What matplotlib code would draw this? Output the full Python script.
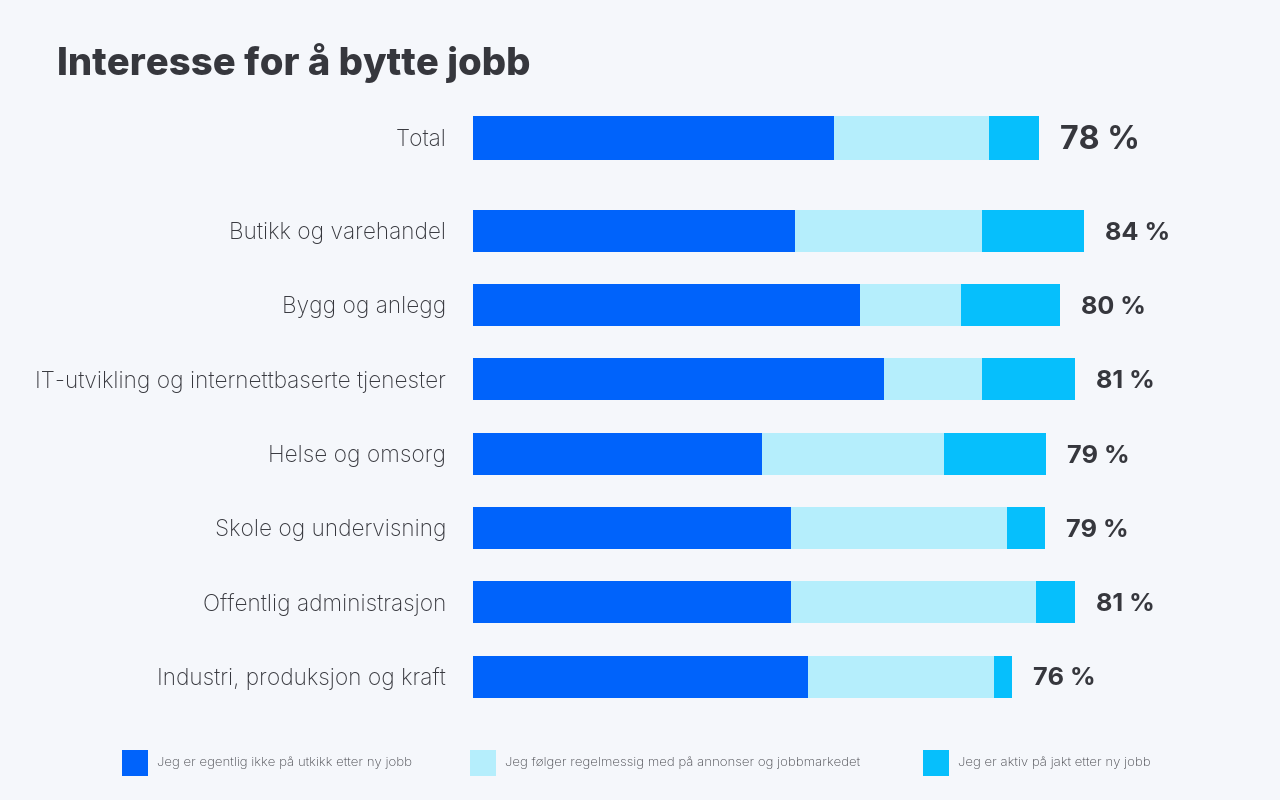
import matplotlib
matplotlib.use("Agg")
import matplotlib.pyplot as plt
from matplotlib.patches import Rectangle

# data (shares in %)
categories = [
    "Total",
    "Butikk og varehandel",
    "Bygg og anlegg",
    "IT-utvikling og internettbaserte tjenester",
    "Helse og omsorg",
    "Skole og undervisning",
    "Offentlig administrasjon",
    "Industri, produksjon og kraft",
]
not_looking = [49.8, 44.4, 53.4, 56.7, 39.9, 43.9, 43.9, 46.2]
following = [21.4, 25.8, 13.9, 13.5, 25.0, 29.8, 33.7, 25.7]
active = [6.8, 14.1, 13.7, 12.8, 14.1, 5.2, 5.5, 2.5]
totals = ["78 %", "84 %", "80 %", "81 %", "79 %", "79 %", "81 %", "76 %"]
legend_labels = [
    "Jeg er egentlig ikke på utkikk etter ny jobb",
    "Jeg følger regelmessig med på annonser og jobbmarkedet",
    "Jeg er aktiv på jakt etter ny jobb",
]

colors = ["#0063fb", "#b5eefc", "#06bffc"]
BG = "#f5f7fb"
TXT = "#36373d"

plt.rcParams["font.family"] = ["Inter", "DejaVu Sans"]

fig = plt.figure(figsize=(12.8, 8), dpi=100, facecolor=BG)
# axes: x 0..100 % over pixels 473..1198, y rows of 74.3 px
ax = fig.add_axes([473 / 1280, 1 - 720 / 800, 725 / 1280, 630 / 800])
ax.set_facecolor(BG)
ax.set_xlim(0, 100)
ax.set_ylim(7.833, -0.646)
ax.axis("off")

ypos = [0] + [1.25 + i for i in range(len(categories) - 1)]
heights = [0.6] + [0.565] * (len(categories) - 1)

left = [0.0] * len(categories)
for vals, col in zip([not_looking, following, active], colors):
    ax.barh(ypos, vals, left=left, height=heights, color=col, linewidth=0)
    left = [l + v for l, v in zip(left, vals)]

for i, (y, lab) in enumerate(zip(ypos, categories)):
    ax.text(-3.7, y + 0.03, lab, ha="right", va="center", fontsize=16.3,
            fontweight="light", color=TXT)
    ax.text(left[i] + 2.9, y + 0.03, totals[i], ha="left", va="center",
            fontsize=23.2 if i == 0 else 18.2, fontweight="bold", color=TXT)

fig.text(57 / 1280, 1 - 63 / 800, "Interesse for å bytte jobb", ha="left",
         va="center", fontsize=27.5, fontweight="heavy", color=TXT)

# legend drawn by hand, spread across the bottom
for xpx, lab, col in zip([122, 470, 923], legend_labels, colors):
    fig.patches.append(Rectangle((xpx / 1280, 1 - 776 / 800), 26 / 1280, 26 / 800,
                                 transform=fig.transFigure, facecolor=col,
                                 edgecolor="none"))
    fig.text((xpx + 35) / 1280, 1 - 763 / 800, lab, ha="left", va="center",
             fontsize=9.5, fontweight="light", color="#46474d")

fig.savefig("out.png", dpi=100, facecolor=BG)
